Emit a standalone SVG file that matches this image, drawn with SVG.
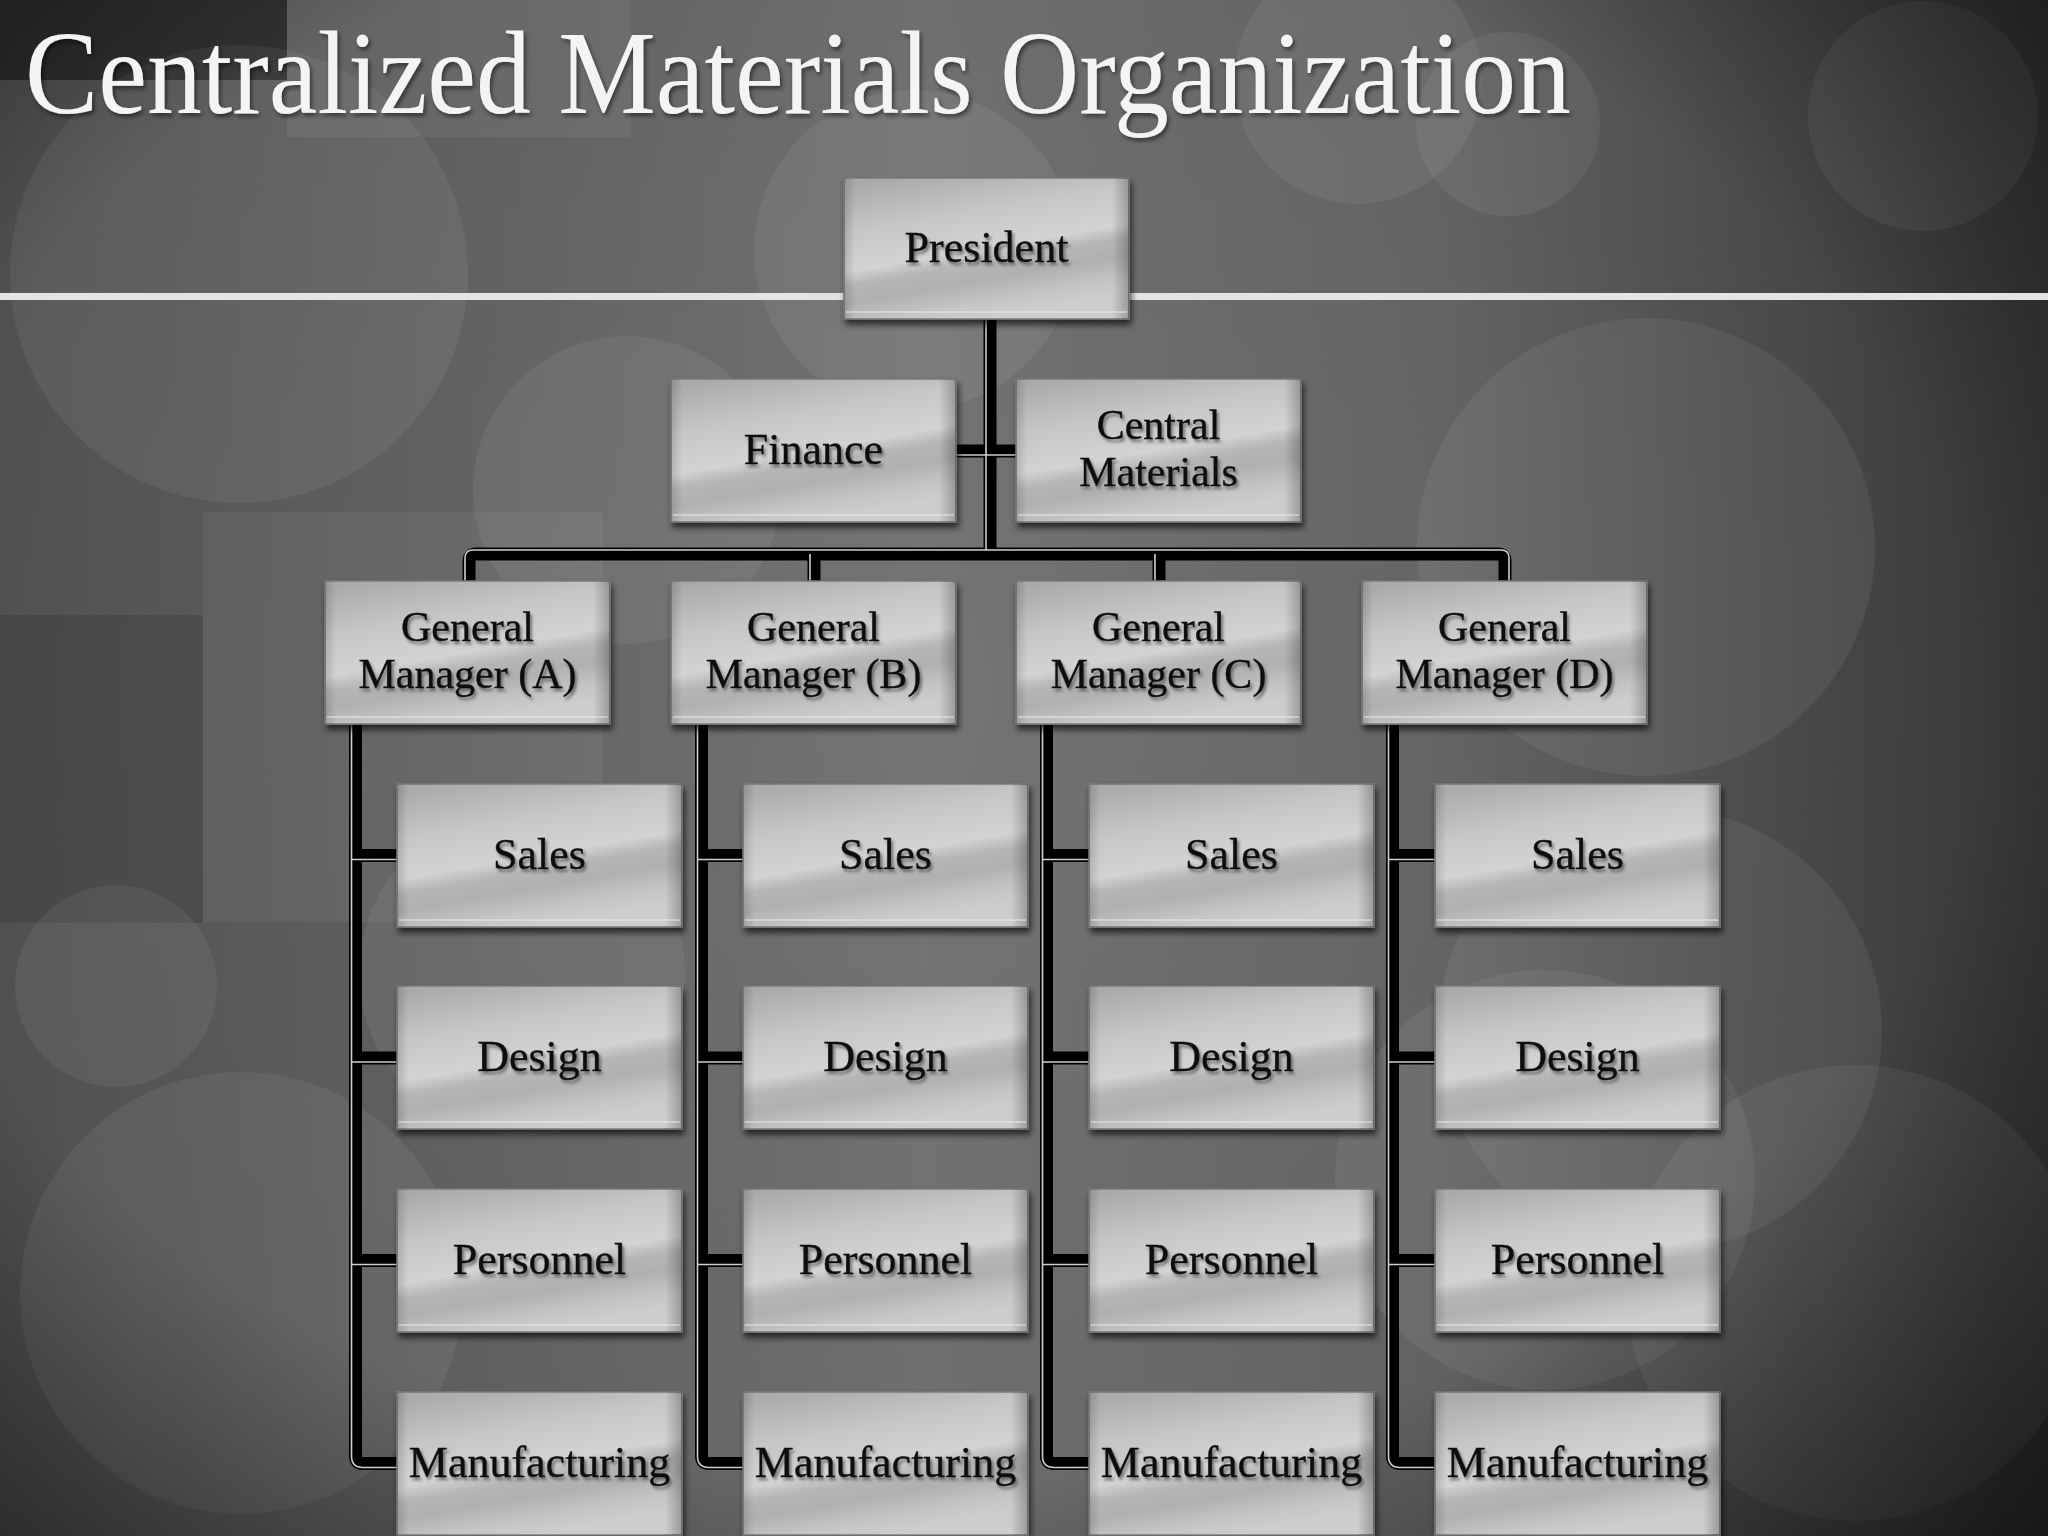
<svg xmlns="http://www.w3.org/2000/svg" width="2048" height="1536" viewBox="0 0 2048 1536">
<defs>
<linearGradient id="bgBase" x1="0" y1="0" x2="1" y2="0">
<stop offset="0" stop-color="#555"/>
<stop offset="0.45" stop-color="#757575"/>
<stop offset="0.7" stop-color="#686868"/>
<stop offset="1" stop-color="#3a3a3a"/>
</linearGradient>
<radialGradient id="vign" cx="0.45" cy="0.45" r="0.85">
<stop offset="0" stop-color="#000" stop-opacity="0"/>
<stop offset="0.6" stop-color="#000" stop-opacity="0.06"/>
<stop offset="1" stop-color="#000" stop-opacity="0.75"/>
</radialGradient>
<linearGradient id="metal" x1="0.15" y1="0" x2="0.5" y2="1">
<stop offset="0" stop-color="#aaaaaa"/>
<stop offset="0.3" stop-color="#c6c6c6"/>
<stop offset="0.55" stop-color="#d3d3d3"/>
<stop offset="0.64" stop-color="#b6b6b6"/>
<stop offset="0.75" stop-color="#b0b0b0"/>
<stop offset="0.9" stop-color="#c6c6c6"/>
<stop offset="1" stop-color="#cdcdcd"/>
</linearGradient>
<linearGradient id="edge" x1="0" y1="0" x2="1" y2="0">
<stop offset="0" stop-color="#000" stop-opacity="0.15"/>
<stop offset="0.04" stop-color="#000" stop-opacity="0"/>
<stop offset="0.94" stop-color="#000" stop-opacity="0"/>
<stop offset="1" stop-color="#000" stop-opacity="0.25"/>
</linearGradient>
<filter id="boxShadow" x="-10%" y="-10%" width="125%" height="130%">
<feDropShadow dx="2" dy="5" stdDeviation="3" flood-color="#000" flood-opacity="0.65"/>
</filter>
<filter id="txtShadow" x="-10%" y="-20%" width="125%" height="150%">
<feDropShadow dx="2" dy="3" stdDeviation="1.4" flood-color="#444" flood-opacity="0.7"/>
</filter>
<filter id="titleShadow" x="-5%" y="-20%" width="110%" height="150%">
<feDropShadow dx="2" dy="3" stdDeviation="2" flood-color="#000" flood-opacity="0.5"/>
</filter>
<style>
.box{fill:url(#metal);stroke:#7a7a7a;stroke-width:1.5;filter:url(#boxShadow)}
.edge{fill:url(#edge)}
.hl{fill:#ececec;opacity:0.5}
.lbl{font-family:"Liberation Serif","Times New Roman",serif;font-size:44px;fill:#111;stroke:#111;stroke-width:0.4;text-anchor:middle;filter:url(#txtShadow)}
.two{font-size:42px}
.ttl{font-family:"Liberation Serif","Times New Roman",serif;font-size:118px;fill:#f4f4f4;filter:url(#titleShadow)}
.base{fill:none;stroke:#000;stroke-width:13}
.lite{fill:none;stroke:#cfcfcf;stroke-width:1.6}
.circ{fill:#fff;fill-opacity:0.065}
</style>
</defs>

<g id="background">
<rect width="2048" height="1536" fill="url(#bgBase)"/>
<rect x="0" y="0" width="287" height="80" fill="#000" fill-opacity="0.45"/>
<rect x="287" y="0" width="344" height="137" fill="#fff" fill-opacity="0.06"/>
<rect x="0" y="615" width="203" height="308" fill="#000" fill-opacity="0.12"/>
<rect x="203" y="512" width="400" height="410" fill="#fff" fill-opacity="0.05"/>
<circle class="circ" cx="239" cy="274" r="229"/>
<circle class="circ" cx="627" cy="490" r="154"/>
<circle class="circ" cx="914" cy="250" r="160"/>
<circle class="circ" cx="1358" cy="80" r="124"/>
<circle class="circ" cx="1508" cy="124" r="92"/>
<circle class="circ" cx="1923" cy="116" r="115"/>
<circle class="circ" cx="1646" cy="547" r="229"/>
<circle class="circ" cx="1660" cy="1030" r="222"/>
<circle class="circ" cx="1855" cy="1293" r="228"/>
<circle class="circ" cx="1545" cy="1180" r="210" fill-opacity="0.045"/>
<circle class="circ" cx="116" cy="986" r="101"/>
<circle class="circ" cx="241" cy="1293" r="221"/>
<circle class="circ" cx="522" cy="973" r="163"/>
<rect width="2048" height="1536" fill="url(#vign)"/>
<rect x="0" y="293" width="2048" height="7" fill="#e4e4e4"/>
</g>

<g id="title">
<text class="ttl" x="25" y="113" textLength="1546" lengthAdjust="spacingAndGlyphs">Centralized Materials Organization</text>
</g>

<g id="connectors">
<path class="base" d="M990,319 V554"/>
<path class="base" d="M469,581 V561 Q469,554 476,554 H1498 Q1505,554 1505,561 V581"/>
<path class="base" d="M814,554 V581 M1159,554 V581"/>
<path class="base" d="M956,451 H1016"/>
<path class="base" d="M355.5,725 V1456 Q355.5,1463.5 363,1463.5 H397 M355.5,855.5 H397 M355.5,1058 H397 M355.5,1260.5 H397"/>
<path class="base" d="M701.5,725 V1456 Q701.5,1463.5 709,1463.5 H743 M701.5,855.5 H743 M701.5,1058 H743 M701.5,1260.5 H743"/>
<path class="base" d="M1046.5,725 V1456 Q1046.5,1463.5 1054,1463.5 H1089 M1046.5,855.5 H1089 M1046.5,1058 H1089 M1046.5,1260.5 H1089"/>
<path class="base" d="M1392.5,725 V1456 Q1392.5,1463.5 1400,1463.5 H1435 M1392.5,855.5 H1435 M1392.5,1058 H1435 M1392.5,1260.5 H1435"/>
<path class="lite" d="M986,319 V550"/>
<path class="lite" d="M465,581 V558 Q465,550 473,550 H1501 Q1509,550 1509,558 V581"/>
<path class="lite" d="M810,554 V581 M1155,554 V581"/>
<path class="lite" d="M956,455 H1016"/>
<path class="lite" d="M351.5,725 V1456 Q351.5,1467.5 363,1467.5 H397 M351.5,859.5 H397 M351.5,1062 H397 M351.5,1264.5 H397"/>
<path class="lite" d="M697.5,725 V1456 Q697.5,1467.5 709,1467.5 H743 M697.5,859.5 H743 M697.5,1062 H743 M697.5,1264.5 H743"/>
<path class="lite" d="M1042.5,725 V1456 Q1042.5,1467.5 1054,1467.5 H1089 M1042.5,859.5 H1089 M1042.5,1062 H1089 M1042.5,1264.5 H1089"/>
<path class="lite" d="M1388.5,725 V1456 Q1388.5,1467.5 1400,1467.5 H1435 M1388.5,859.5 H1435 M1388.5,1062 H1435 M1388.5,1264.5 H1435"/>
</g>

<g id="president"><rect class="box" x="844" y="178" width="285" height="141"/><rect class="edge" x="844" y="178" width="285" height="141"/><rect class="hl" x="846" y="311" width="281" height="2"/><text class="lbl" x="986.5" y="262">President</text></g>
<g id="finance"><rect class="box" x="671" y="379" width="285" height="143"/><rect class="edge" x="671" y="379" width="285" height="143"/><rect class="hl" x="673" y="514" width="281" height="2"/><text class="lbl" x="813.5" y="464">Finance</text></g>
<g id="central-materials"><rect class="box" x="1016" y="379" width="285" height="143"/><rect class="edge" x="1016" y="379" width="285" height="143"/><rect class="hl" x="1018" y="514" width="281" height="2"/><text class="lbl two" x="1158.5" y="439">Central<tspan x="1158.5" dy="47">Materials</tspan></text></g>

<g id="gm-a"><rect class="box" x="325" y="581" width="285" height="143"/><rect class="edge" x="325" y="581" width="285" height="143"/><rect class="hl" x="327" y="716" width="281" height="2"/><text class="lbl two" x="467.5" y="641">General<tspan x="467.5" dy="47">Manager (A)</tspan></text></g>
<g id="gm-b"><rect class="box" x="671" y="581" width="285" height="143"/><rect class="edge" x="671" y="581" width="285" height="143"/><rect class="hl" x="673" y="716" width="281" height="2"/><text class="lbl two" x="813.5" y="641">General<tspan x="813.5" dy="47">Manager (B)</tspan></text></g>
<g id="gm-c"><rect class="box" x="1016" y="581" width="285" height="143"/><rect class="edge" x="1016" y="581" width="285" height="143"/><rect class="hl" x="1018" y="716" width="281" height="2"/><text class="lbl two" x="1158.5" y="641">General<tspan x="1158.5" dy="47">Manager (C)</tspan></text></g>
<g id="gm-d"><rect class="box" x="1362" y="581" width="285" height="143"/><rect class="edge" x="1362" y="581" width="285" height="143"/><rect class="hl" x="1364" y="716" width="281" height="2"/><text class="lbl two" x="1504.5" y="641">General<tspan x="1504.5" dy="47">Manager (D)</tspan></text></g>

<g id="sales-a"><rect class="box" x="397" y="784" width="285" height="143"/><rect class="edge" x="397" y="784" width="285" height="143"/><rect class="hl" x="399" y="919" width="281" height="2"/><text class="lbl" x="539.5" y="869">Sales</text></g>
<g id="design-a"><rect class="box" x="397" y="986" width="285" height="143"/><rect class="edge" x="397" y="986" width="285" height="143"/><rect class="hl" x="399" y="1121" width="281" height="2"/><text class="lbl" x="539.5" y="1071">Design</text></g>
<g id="personnel-a"><rect class="box" x="397" y="1189" width="285" height="143"/><rect class="edge" x="397" y="1189" width="285" height="143"/><rect class="hl" x="399" y="1324" width="281" height="2"/><text class="lbl" x="539.5" y="1274">Personnel</text></g>
<g id="manufacturing-a"><rect class="box" x="397" y="1392" width="285" height="143"/><rect class="edge" x="397" y="1392" width="285" height="143"/><text class="lbl" x="539.5" y="1477">Manufacturing</text></g>

<g id="sales-b"><rect class="box" x="743" y="784" width="285" height="143"/><rect class="edge" x="743" y="784" width="285" height="143"/><rect class="hl" x="745" y="919" width="281" height="2"/><text class="lbl" x="885.5" y="869">Sales</text></g>
<g id="design-b"><rect class="box" x="743" y="986" width="285" height="143"/><rect class="edge" x="743" y="986" width="285" height="143"/><rect class="hl" x="745" y="1121" width="281" height="2"/><text class="lbl" x="885.5" y="1071">Design</text></g>
<g id="personnel-b"><rect class="box" x="743" y="1189" width="285" height="143"/><rect class="edge" x="743" y="1189" width="285" height="143"/><rect class="hl" x="745" y="1324" width="281" height="2"/><text class="lbl" x="885.5" y="1274">Personnel</text></g>
<g id="manufacturing-b"><rect class="box" x="743" y="1392" width="285" height="143"/><rect class="edge" x="743" y="1392" width="285" height="143"/><text class="lbl" x="885.5" y="1477">Manufacturing</text></g>

<g id="sales-c"><rect class="box" x="1089" y="784" width="285" height="143"/><rect class="edge" x="1089" y="784" width="285" height="143"/><rect class="hl" x="1091" y="919" width="281" height="2"/><text class="lbl" x="1231.5" y="869">Sales</text></g>
<g id="design-c"><rect class="box" x="1089" y="986" width="285" height="143"/><rect class="edge" x="1089" y="986" width="285" height="143"/><rect class="hl" x="1091" y="1121" width="281" height="2"/><text class="lbl" x="1231.5" y="1071">Design</text></g>
<g id="personnel-c"><rect class="box" x="1089" y="1189" width="285" height="143"/><rect class="edge" x="1089" y="1189" width="285" height="143"/><rect class="hl" x="1091" y="1324" width="281" height="2"/><text class="lbl" x="1231.5" y="1274">Personnel</text></g>
<g id="manufacturing-c"><rect class="box" x="1089" y="1392" width="285" height="143"/><rect class="edge" x="1089" y="1392" width="285" height="143"/><text class="lbl" x="1231.5" y="1477">Manufacturing</text></g>

<g id="sales-d"><rect class="box" x="1435" y="784" width="285" height="143"/><rect class="edge" x="1435" y="784" width="285" height="143"/><rect class="hl" x="1437" y="919" width="281" height="2"/><text class="lbl" x="1577.5" y="869">Sales</text></g>
<g id="design-d"><rect class="box" x="1435" y="986" width="285" height="143"/><rect class="edge" x="1435" y="986" width="285" height="143"/><rect class="hl" x="1437" y="1121" width="281" height="2"/><text class="lbl" x="1577.5" y="1071">Design</text></g>
<g id="personnel-d"><rect class="box" x="1435" y="1189" width="285" height="143"/><rect class="edge" x="1435" y="1189" width="285" height="143"/><rect class="hl" x="1437" y="1324" width="281" height="2"/><text class="lbl" x="1577.5" y="1274">Personnel</text></g>
<g id="manufacturing-d"><rect class="box" x="1435" y="1392" width="285" height="143"/><rect class="edge" x="1435" y="1392" width="285" height="143"/><text class="lbl" x="1577.5" y="1477">Manufacturing</text></g>
</svg>
